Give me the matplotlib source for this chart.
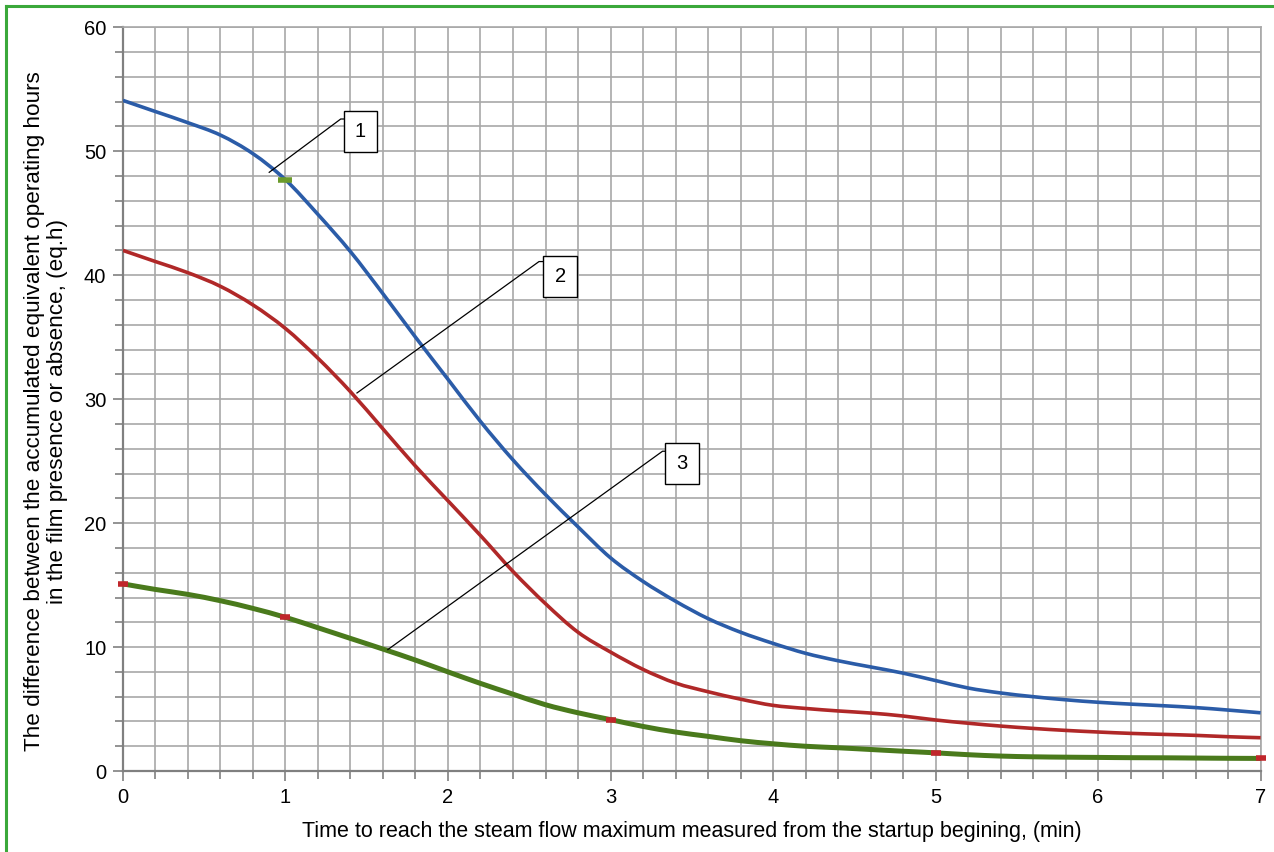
import numpy as np
import matplotlib.pyplot as plt
from matplotlib.ticker import MultipleLocator
from matplotlib.lines import Line2D
from matplotlib.path import Path
from matplotlib.patches import PathPatch

plt.rcParams['font.family'] = ['Liberation Sans', 'DejaVu Sans']

# ---------------- DATA ----------------
t = [0.0, 0.2, 0.4, 0.6, 0.8, 1.0, 1.2, 1.4, 1.6, 1.8, 2.0, 2.2, 2.4, 2.6, 2.8,
     3.0, 3.2, 3.4, 3.6, 3.8, 4.0, 4.2, 4.4, 4.6, 4.8, 5.0, 5.2, 5.4, 5.6, 5.8,
     6.0, 6.2, 6.4, 6.6, 6.8, 7.0]

curve1 = [54.1, 53.2, 52.3, 51.3, 49.8, 47.7, 44.9, 41.9, 38.5, 35.0, 31.6, 28.2,
          25.1, 22.3, 19.7, 17.2, 15.3, 13.7, 12.3, 11.2, 10.3, 9.5, 8.9, 8.4,
          7.9, 7.3, 6.7, 6.3, 6.0, 5.75, 5.55, 5.4, 5.27, 5.12, 4.92, 4.7]

curve2 = [42.0, 41.1, 40.2, 39.1, 37.6, 35.7, 33.3, 30.6, 27.6, 24.6, 21.8, 19.0,
          16.1, 13.5, 11.2, 9.6, 8.2, 7.1, 6.4, 5.8, 5.3, 5.05, 4.85, 4.68,
          4.44, 4.12, 3.86, 3.63, 3.44, 3.28, 3.15, 3.04, 2.96, 2.88, 2.77, 2.69]

curve3 = [15.1, 14.65, 14.25, 13.74, 13.12, 12.4, 11.56, 10.7, 9.84, 8.95, 8.0,
          7.07, 6.2, 5.35, 4.7, 4.15, 3.6, 3.15, 2.8, 2.45, 2.2, 2.0, 1.88, 1.74,
          1.6, 1.47, 1.32, 1.21, 1.15, 1.12, 1.1, 1.08, 1.07, 1.05, 1.03, 1.02]

# small point marks that show on the curves
mark1_t = [1.0]
mark3_t = [0.0, 1.0, 3.0, 5.0, 7.0]

labels = ['1', '2', '3']
label_pos = [(1.46, 51.6), (2.69, 39.9), (3.44, 24.8)]
leader_from = [(1.34, 52.6), (2.56, 41.1), (3.32, 25.8)]
leader_to = [(0.90, 48.3), (1.44, 30.5), (1.63, 9.8)]

xlabel = 'Time to reach the steam flow maximum measured from the startup begining, (min)'
ylabel = ('The difference between the accumulated equivalent operating hours\n'
          'in the film presence or absence, (eq.h)')


def smooth_path(x, y):
    # Excel-like smoothed line: bezier segments through the given points
    x = np.asarray(x, float)
    y = np.asarray(y, float)
    verts = [(x[0], y[0])]
    codes = [Path.MOVETO]
    n = len(x)
    for i in range(n - 1):
        i0, i3 = max(i - 1, 0), min(i + 2, n - 1)
        c1 = (x[i] + (x[i + 1] - x[i0]) / 6, y[i] + (y[i + 1] - y[i0]) / 6)
        c2 = (x[i + 1] - (x[i3] - x[i]) / 6, y[i + 1] - (y[i3] - y[i]) / 6)
        verts += [c1, c2, (x[i + 1], y[i + 1])]
        codes += [Path.CURVE4] * 3
    return Path(verts, codes)


# ---------------- PLOT ----------------
fig = plt.figure(figsize=(12.74, 8.52), dpi=100)
ax = fig.add_axes([0.0965, 0.095, 0.893, 0.873])

for yy, col, lw in [(curve1, '#2b5ca8', 2.6), (curve2, '#b02828', 2.6),
                    (curve3, '#4a7a1c', 3.6)]:
    ax.add_patch(PathPatch(smooth_path(t, yy), fc='none', ec=col, lw=lw,
                           capstyle='butt', zorder=3))

ax.plot(mark1_t, np.interp(mark1_t, t, curve1), ls='none', marker='_',
        ms=10, mew=4, color='#6a9a2a', zorder=4)
ax.plot(mark3_t, np.interp(mark3_t, t, curve3), ls='none', marker='_',
        ms=7, mew=4, color='#c0262b', zorder=4, clip_on=False)

for lab, pos, p0, p1 in zip(labels, label_pos, leader_from, leader_to):
    ax.add_line(Line2D([p0[0] + 0.04, p0[0], p1[0]], [p0[1], p0[1], p1[1]],
                       color='black', lw=0.9, zorder=5))
    ax.text(pos[0], pos[1], lab, fontsize=14.5, ha='center', va='center', zorder=6,
            bbox=dict(boxstyle='square,pad=0.55', fc='white', ec='black', lw=1.0))

ax.set_xlim(0, 7)
ax.set_ylim(0, 60)
ax.xaxis.set_major_locator(MultipleLocator(1))
ax.xaxis.set_minor_locator(MultipleLocator(0.2))
ax.yaxis.set_major_locator(MultipleLocator(10))
ax.yaxis.set_minor_locator(MultipleLocator(2))

ax.grid(which='both', color='#a8a8a8', lw=1.2)
ax.set_axisbelow(True)
ax.tick_params(which='both', direction='out', color='#808080', width=1.2)
ax.tick_params(which='major', length=7, labelsize=14.5, pad=5)
ax.tick_params(which='minor', length=6)
for side in ['left', 'bottom']:
    ax.spines[side].set_color('#808080')
    ax.spines[side].set_linewidth(1.6)
for side in ['top', 'right']:
    ax.spines[side].set_color('#a8a8a8')
    ax.spines[side].set_linewidth(1.2)

ax.set_xlabel(xlabel, fontsize=15.5, labelpad=10)
ax.set_ylabel(ylabel, fontsize=16.2, linespacing=1.12)
ax.yaxis.set_label_coords(-0.048, 0.484)

# green frame of the original picture (top and left edges)
fig.add_artist(Line2D([0.005, 0.005], [0, 0.993], transform=fig.transFigure,
                      color='#3aa83a', lw=2.2))
fig.add_artist(Line2D([0.005, 1.0], [0.993, 0.993], transform=fig.transFigure,
                      color='#3aa83a', lw=2.2))

fig.savefig('out.png', dpi=100)
